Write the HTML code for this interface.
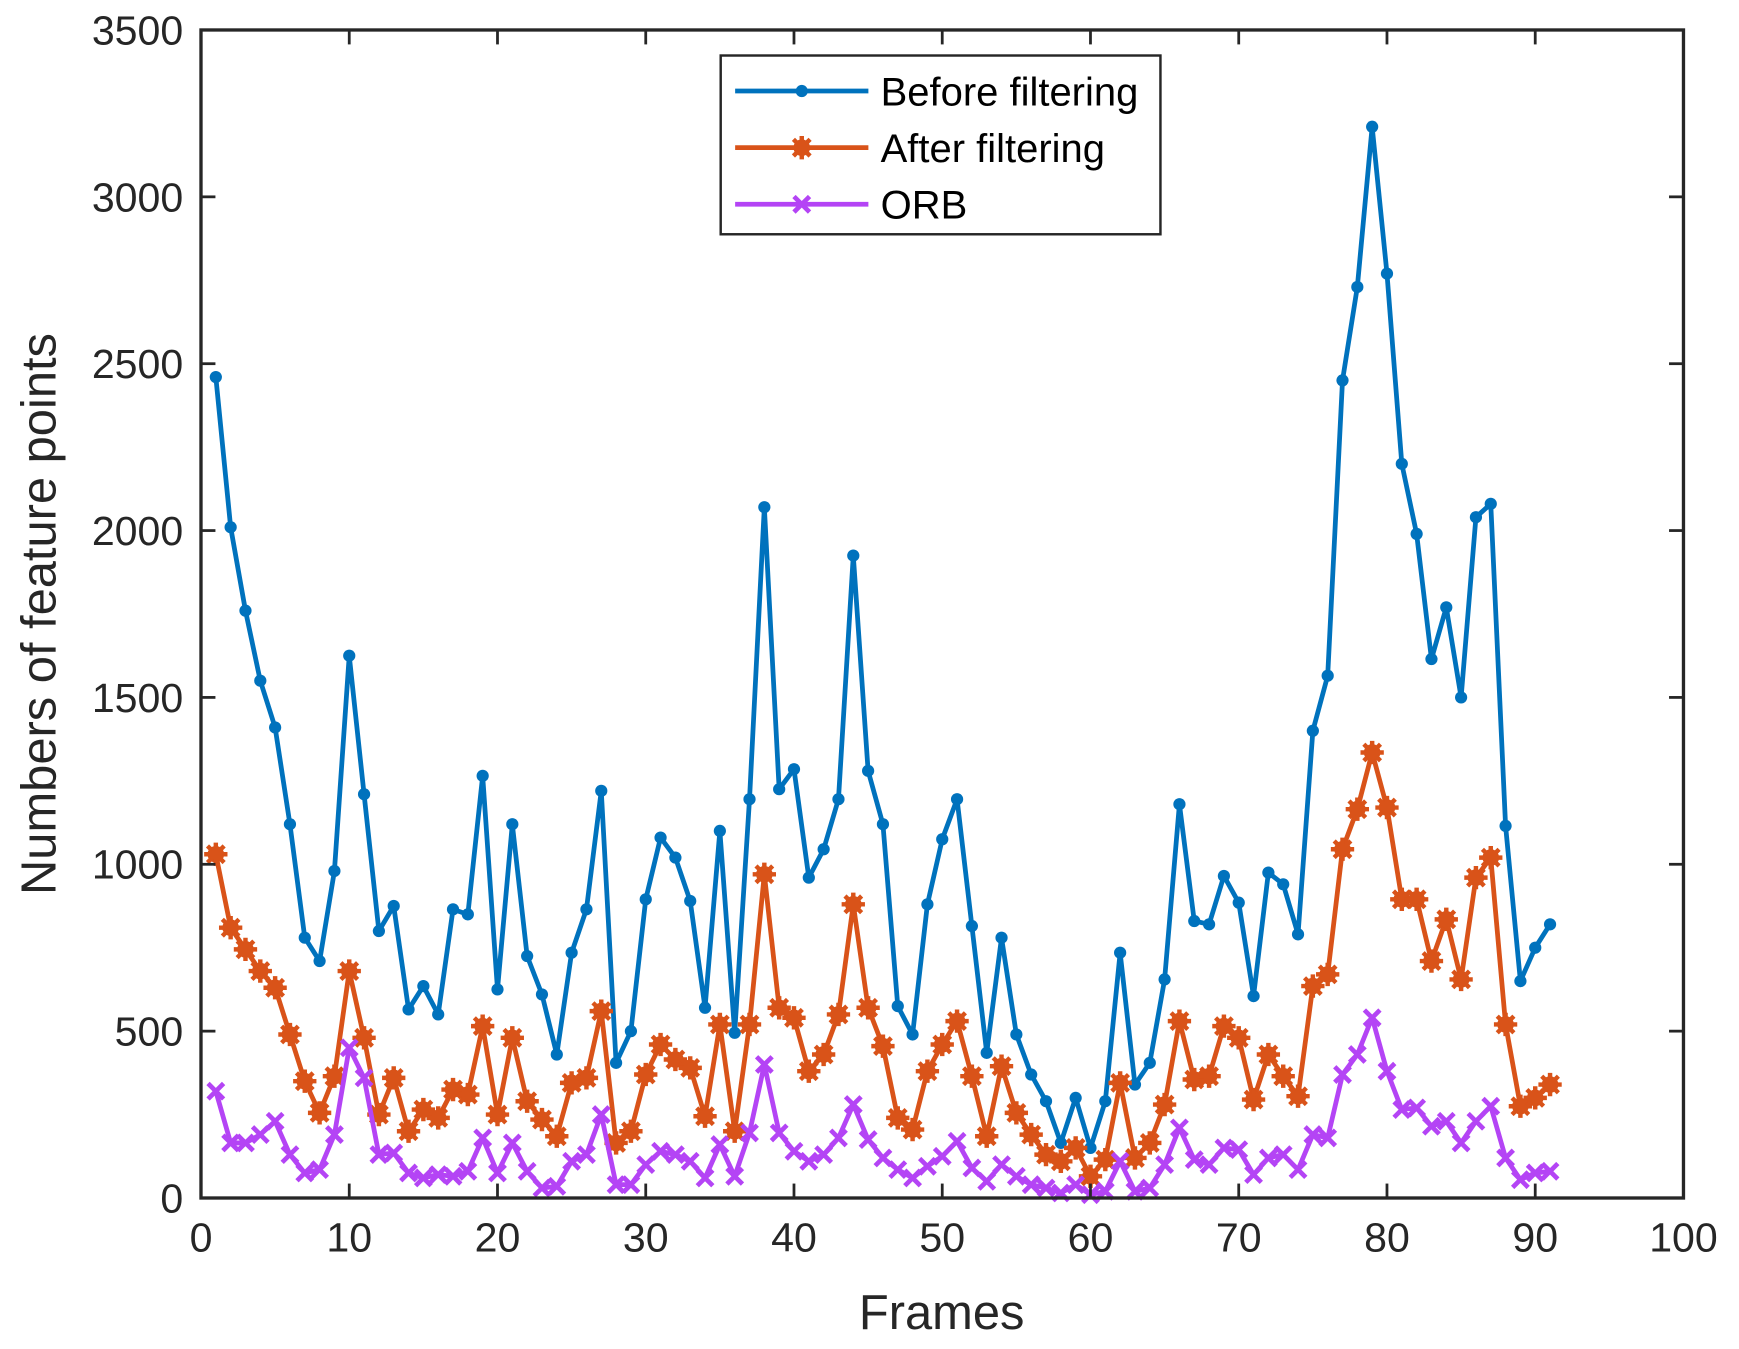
<!DOCTYPE html>
<html><head><meta charset="utf-8"><style>
html,body{margin:0;padding:0;background:#fff;}
svg{display:block;font-family:"Liberation Sans",Arial,sans-serif;}
</style></head><body>
<svg id="chart" width="1739" height="1349" viewBox="0 0 1566 1215" preserveAspectRatio="none" xmlns="http://www.w3.org/2000/svg">
<rect x="0" y="0" width="1566" height="1215" fill="#fff"/>
<g id="series"></g>
<rect x="181" y="27" width="1335" height="1052" fill="none" stroke="#262626" stroke-width="3"/>
<g id="axes"></g>
<text x="848" y="1197" font-size="44" text-anchor="middle" fill="#262626">Frames</text>
<text transform="translate(50,553) rotate(-90)" font-size="44" text-anchor="middle" fill="#262626">Numbers of feature points</text>
<g id="legend">
<rect x="649" y="50" width="396" height="161" fill="#fff" stroke="#262626" stroke-width="2.2"/>
</g>
</svg>
<script>
const frames = Array.from({length:91},(_,i)=>i+1);
const beforeFiltering = [2460,2010,1760,1550,1410,1120,780,710,980,1625,1210,800,875,565,635,550,865,850,1265,625,1120,725,610,430,735,865,1220,405,500,895,1080,1020,890,570,1100,495,1195,2070,1225,1285,960,1045,1195,1925,1280,1120,575,490,880,1075,1195,815,435,780,490,370,290,165,300,150,290,735,340,405,655,1180,830,820,965,885,605,975,940,790,1400,1565,2450,2730,3210,2770,2200,1990,1615,1770,1500,2040,2080,1115,650,750,820];
const afterFiltering = [1030,810,745,680,630,490,350,255,365,680,480,250,360,200,265,240,325,310,515,250,480,290,235,185,345,360,560,165,200,370,460,415,390,245,520,200,520,970,570,540,380,430,550,880,570,455,240,205,380,460,530,365,185,395,255,190,130,110,150,65,115,345,120,165,280,530,355,365,515,480,295,430,365,305,635,670,1045,1165,1335,1170,895,895,710,835,655,960,1020,520,275,300,340];
const orb = [320,165,165,190,230,130,75,85,190,450,360,130,135,75,60,70,65,80,180,75,165,80,30,35,110,130,250,40,40,100,140,130,110,60,160,65,195,400,195,140,110,130,180,280,175,120,85,60,95,125,170,90,50,100,65,40,30,15,40,10,20,110,20,30,100,210,115,100,150,145,70,120,130,85,190,180,370,430,540,380,265,270,215,230,165,230,275,120,55,75,80];
const xTicks = [0,10,20,30,40,50,60,70,80,90,100];
const yTicks = [0,500,1000,1500,2000,2500,3000,3500];
const seriesNames = ["Before filtering","After filtering","ORB"];

const NS="http://www.w3.org/2000/svg";
const X0=181,X1=1516,Y0=1079,Y1=27;
const xs=v=>X0+(v-0)/(100-0)*(X1-X0);
const ys=v=>Y0-(v-0)/(3500-0)*(Y0-Y1);
function mk(tag,attrs,parent){const e=document.createElementNS(NS,tag);for(const k in attrs)e.setAttribute(k,attrs[k]);parent.appendChild(e);return e;}
const axes=document.getElementById('axes');
xTicks.forEach(t=>{
  const g=mk('g',{},axes);
  
  
  mk('line',{x1:xs(t),x2:xs(t),y1:Y0,y2:Y0-13,stroke:'#262626','stroke-width':2.5},g);
  mk('line',{x1:xs(t),x2:xs(t),y1:Y1,y2:Y1+13,stroke:'#262626','stroke-width':2.5},g);
  const tx=mk('text',{x:xs(t),y:Y0+48,'font-size':37,'text-anchor':'middle',fill:'#262626'},g);
  tx.textContent=t;
});
yTicks.forEach(t=>{
  const g=mk('g',{},axes);
  
  
  mk('line',{x1:X0,x2:X0+13,y1:ys(t),y2:ys(t),stroke:'#262626','stroke-width':2.5},g);
  mk('line',{x1:X1,x2:X1-13,y1:ys(t),y2:ys(t),stroke:'#262626','stroke-width':2.5},g);
  const tx=mk('text',{x:X0-16,y:ys(t)+13,'font-size':37,'text-anchor':'end',fill:'#262626'},g);
  tx.textContent=t;
});
const colors=['#0072BD','#D95319','#B444F5'];
function marker(type,x,y,c,parent){
  if(type===0){mk('circle',{cx:x,cy:y,r:5.5,fill:c},parent);}
  else if(type===1){
    mk('circle',{cx:x,cy:y,r:7.5,fill:c},parent);
    mk('path',{d:`M${x-10.5},${y}H${x+10.5}M${x},${y-10.5}V${y+10.5}M${x-7.5},${y-7.5}L${x+7.5},${y+7.5}M${x-7.5},${y+7.5}L${x+7.5},${y-7.5}`,stroke:c,'stroke-width':4},parent);
  } else {
    mk('path',{d:`M${x-7},${y-7}L${x+7},${y+7}M${x-7},${y+7}L${x+7},${y-7}`,stroke:c,'stroke-width':4.2},parent);
  }
}
const seriesG=document.getElementById('series');
[beforeFiltering,afterFiltering,orb].forEach((data,si)=>{
  const g=mk('g',{},seriesG);
  
  
  const d=data.map((v,i)=>(i?'L':'M')+xs(frames[i])+','+ys(v)).join('');
  mk('path',{d:d,fill:'none',stroke:colors[si],'stroke-width':4.3,'stroke-linejoin':'round'},g);
  data.forEach((v,i)=>marker(si,xs(frames[i]),ys(v),colors[si],g));
});
const leg=document.getElementById('legend');
seriesNames.forEach((n,i)=>{
  const y=82+i*51;
  const g=mk('g',{},leg);
  
  
  mk('line',{x1:662,x2:782,y1:y,y2:y,stroke:colors[i],'stroke-width':4.3},g);
  marker(i,722,y,colors[i],g);
  const t=mk('text',{x:793,y:y+13,'font-size':36,fill:'#000'},g);
  t.textContent=n;
});
</script>
</body></html>
